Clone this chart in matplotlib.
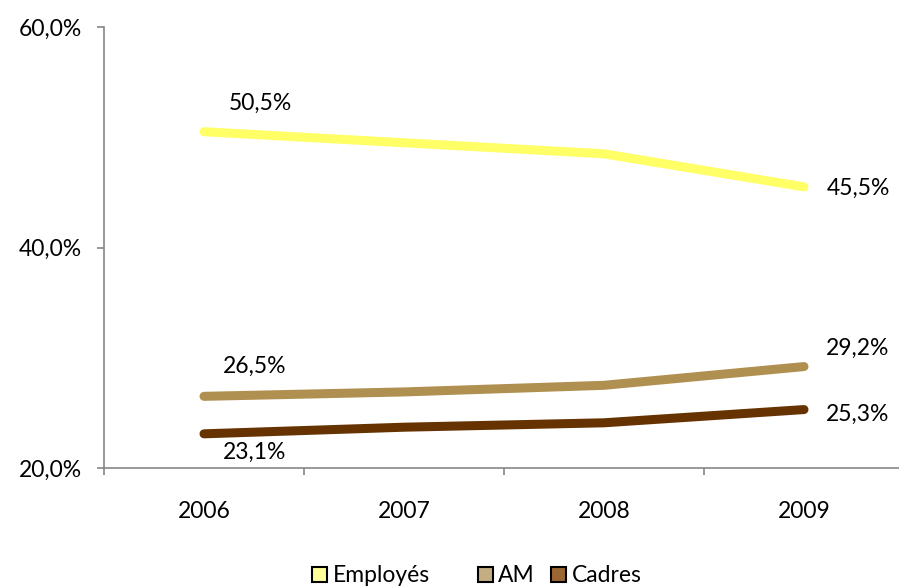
import matplotlib
matplotlib.use("Agg")
import matplotlib.pyplot as plt
from matplotlib.patches import Patch

years = ["2006", "2007", "2008", "2009"]
employes = [50.5, 49.5, 48.5, 45.5]
am = [26.5, 26.9, 27.5, 29.2]
cadres = [23.1, 23.7, 24.1, 25.3]
series_names = ["Employés", "AM", "Cadres"]
line_colors = ["#FFFF66", "#B09050", "#663300"]
legend_colors = ["#FFFF99", "#C4AD80", "#9C6633"]
yticks = [20, 40, 60]
ytick_labels = ["20,0%", "40,0%", "60,0%"]

FS = 16.5
plt.rcParams['font.family'] = ['Lato', 'DejaVu Sans']
fig = plt.figure(figsize=(8.99, 5.87), dpi=100)
W, H = 899, 587
ax = fig.add_axes([104 / W, (H - 468) / H, (899 - 104) / W, (468 - 27) / H])

x = list(range(len(years)))
data = [employes, am, cadres]
for vals, c in zip(data, line_colors):
    ax.plot(x, vals, color=c, lw=6.5, solid_capstyle='round', solid_joinstyle='round')

def lab(v):
    return f"{v:.1f}%".replace(".", ",")

offsets = {
    (0, 0): (56, 22), (0, 3): (54, -8),
    (1, 0): (51, 23), (1, 3): (54, 12),
    (2, 0): (51, -25), (2, 3): (54, -11),
}
for (si, xi), off in offsets.items():
    v = data[si][xi]
    ax.annotate(lab(v), (xi, v), xytext=off, textcoords='offset pixels',
                ha='center', va='baseline', fontsize=FS, color='#000000')

ax.set_ylim(20, 60)
ax.set_xlim(-0.5, 3.5 - 5 / 200)
ax.set_yticks(yticks)
ax.set_yticklabels(ytick_labels)
ax.set_xticks(x)
ax.set_xticklabels(years)
ax.set_xticks([-0.5, 0.5, 1.5, 2.5], minor=True)

for s in ['top', 'right']:
    ax.spines[s].set_visible(False)
for s in ['left', 'bottom']:
    ax.spines[s].set_color('#868686')
    ax.spines[s].set_linewidth(1.2)

ax.tick_params(axis='y', length=5, width=1.2, color='#868686', pad=11, labelsize=FS)
ax.tick_params(axis='x', which='major', length=0, pad=24, labelsize=FS)
ax.tick_params(axis='x', which='minor', length=5, width=1.2, color='#868686')

handles = [Patch(facecolor=c, edgecolor='black', linewidth=1.5) for c in legend_colors]
common = dict(frameon=False, fontsize=FS, handlelength=0.64, handleheight=0.64,
              handletextpad=0.25, columnspacing=0.7, borderpad=0, borderaxespad=0)
leg1 = fig.legend(handles[:1], series_names[:1], loc='center right',
                  bbox_to_anchor=(430 / W, 1 - 576 / H), ncol=1, **common)
leg2 = fig.legend(handles[1:], series_names[1:], loc='center left',
                  bbox_to_anchor=(478 / W, 1 - 576 / H), ncol=2, **common)

fig.savefig("out.png", dpi=100)
